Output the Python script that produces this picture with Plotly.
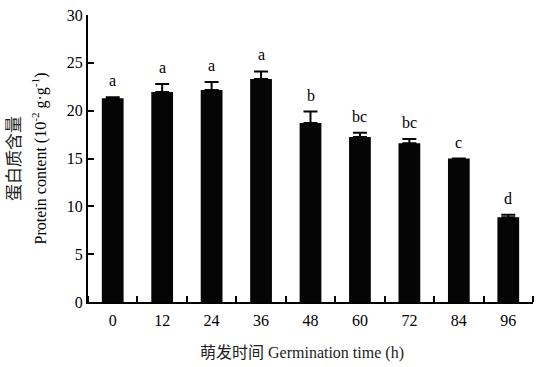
import plotly.graph_objects as go

categories = ["0", "12", "24", "36", "48", "60", "72", "84", "96"]
protein = [21.3, 21.95, 22.15, 23.3, 18.7, 17.25, 16.6, 15.0, 8.85]
errors = [0.1, 0.85, 0.85, 0.8, 1.2, 0.45, 0.45, 0.0, 0.28]
letters = ["a", "a", "a", "a", "b", "bc", "bc", "c", "d"]
y_ticks = [0, 5, 10, 15, 20, 25, 30]

FONT = "Liberation Serif, Times New Roman, Noto Sans CJK SC"
positions = list(range(len(categories)))

fig = go.Figure()
fig.add_trace(go.Bar(
    x=positions, y=protein,
    marker=dict(color="#050505", line=dict(width=0)),
    width=0.44,
    error_y=dict(type="data", array=[e if e > 0 else None for e in errors],
                 arrayminus=[0]*len(errors), symmetric=False,
                 color="#050505", thickness=2, width=7),
    showlegend=False,
))

for p, v, e, t in zip(positions, protein, errors, letters):
    fig.add_annotation(x=p, y=v + e, text=t, showarrow=False, yanchor="bottom",
                       yshift=6, font=dict(family=FONT, size=16, color="black"))

fig.add_annotation(xref="paper", yref="paper", x=-0.165, y=0.5, xanchor="center", yanchor="middle",
                   text="蛋白质含量", textangle=-90, showarrow=False,
                   font=dict(family=FONT, size=17, color="#222"))
fig.add_annotation(xref="paper", yref="paper", x=-0.108, y=0.5, xanchor="center", yanchor="middle",
                   text="Protein content (10<sup>-2</sup> g·g<sup>-1</sup>)", textangle=-90, showarrow=False,
                   font=dict(family=FONT, size=16, color="black"))
fig.add_annotation(xref="paper", yref="paper", x=0.48, y=-0.178, xanchor="center", yanchor="middle",
                   text="萌发时间 Germination time (h)", showarrow=False,
                   font=dict(family=FONT, size=16, color="#222"))

fig.update_layout(
    width=538, height=367,
    margin=dict(l=88, r=5, t=15, b=65),
    plot_bgcolor="white", paper_bgcolor="white",
    font=dict(family=FONT, size=16, color="black"),
)
fig.update_xaxes(
    range=[-0.5, 8.5], tickmode="array", tickvals=positions, ticktext=categories,
    showline=True, linecolor="black", linewidth=2,
    ticks="", showgrid=False, zeroline=False, ticklabelstandoff=3,
    minor=dict(ticks="inside", tick0=0.5, dtick=1, ticklen=6, tickwidth=2,
               tickcolor="black", showgrid=False),
    tickfont=dict(family=FONT, size=16, color="black"),
)
fig.update_yaxes(
    range=[0, 30], tickvals=y_ticks,
    showline=True, linecolor="black", linewidth=2,
    ticks="inside", ticklen=6, tickwidth=2, tickcolor="black",
    showgrid=False, zeroline=False,
    tickfont=dict(family=FONT, size=16, color="black"),
)
fig.write_html("out.html", config={"displayModeBar": False},
               post_script="document.body.style.margin='0';")
